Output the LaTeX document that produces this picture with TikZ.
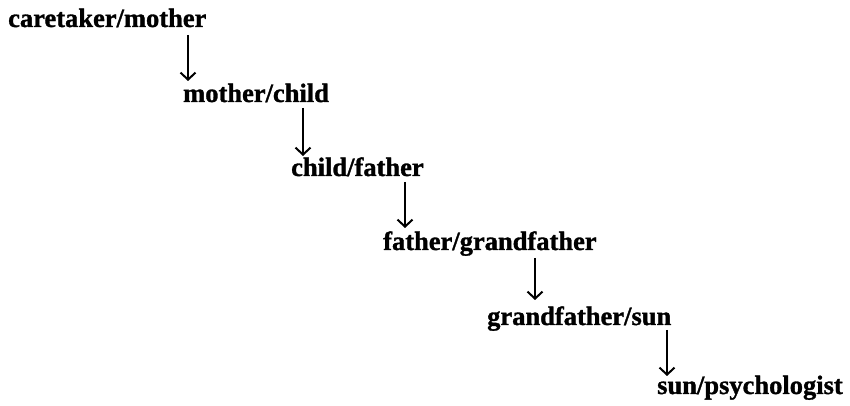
\documentclass[tikz,border=0pt]{standalone}
\usepackage{fontspec}
\setmainfont{Liberation Serif}[BoldFeatures={FakeBold=1.2}]
\usetikzlibrary{arrows.meta,calc}
\begin{document}
\begin{tikzpicture}[x=1pt,y=1pt,
  lbl/.style={anchor=base west,inner sep=0pt,font=\fontsize{26.5}{30}\selectfont\bfseries},
  arr/.style={line width=2.2pt,-{Straight Barb[length=7pt,width=15pt,line width=2pt]}}]
\useasboundingbox (0,0) rectangle (850,406);
\node[lbl] (a) at (8,379) {caretaker/mother};
\node[lbl] (b) at (183,304) {mother/child};
\node[lbl] (c) at (291,230) {child/father};
\node[lbl] (d) at (383,156) {father/grandfather};
\node[lbl] (e) at (487,81) {grandfather/sun};
\node[lbl] (f) at (657,12) {sun/psychologist};
\coordinate (x1) at (188,0);
\coordinate (x2) at (303,0);
\coordinate (x3) at (405,0);
\coordinate (x4) at (535,0);
\coordinate (x5) at (667,0);
\draw[arr] ($(x1|-a.base)+(0,-8)$) -- ($(x1|-b.base)+(0,21)$);
\draw[arr] ($(x2|-b.base)+(0,-6)$) -- ($(x2|-c.base)+(0,20)$);
\draw[arr] ($(x3|-c.base)+(0,-6)$) -- ($(x3|-d.base)+(0,22)$);
\draw[arr] ($(x4|-d.base)+(0,-8)$) -- ($(x4|-e.base)+(0,25)$);
\draw[arr] ($(x5|-e.base)+(0,-5)$) -- ($(x5|-f.base)+(0,18)$);
\end{tikzpicture}
\end{document}
